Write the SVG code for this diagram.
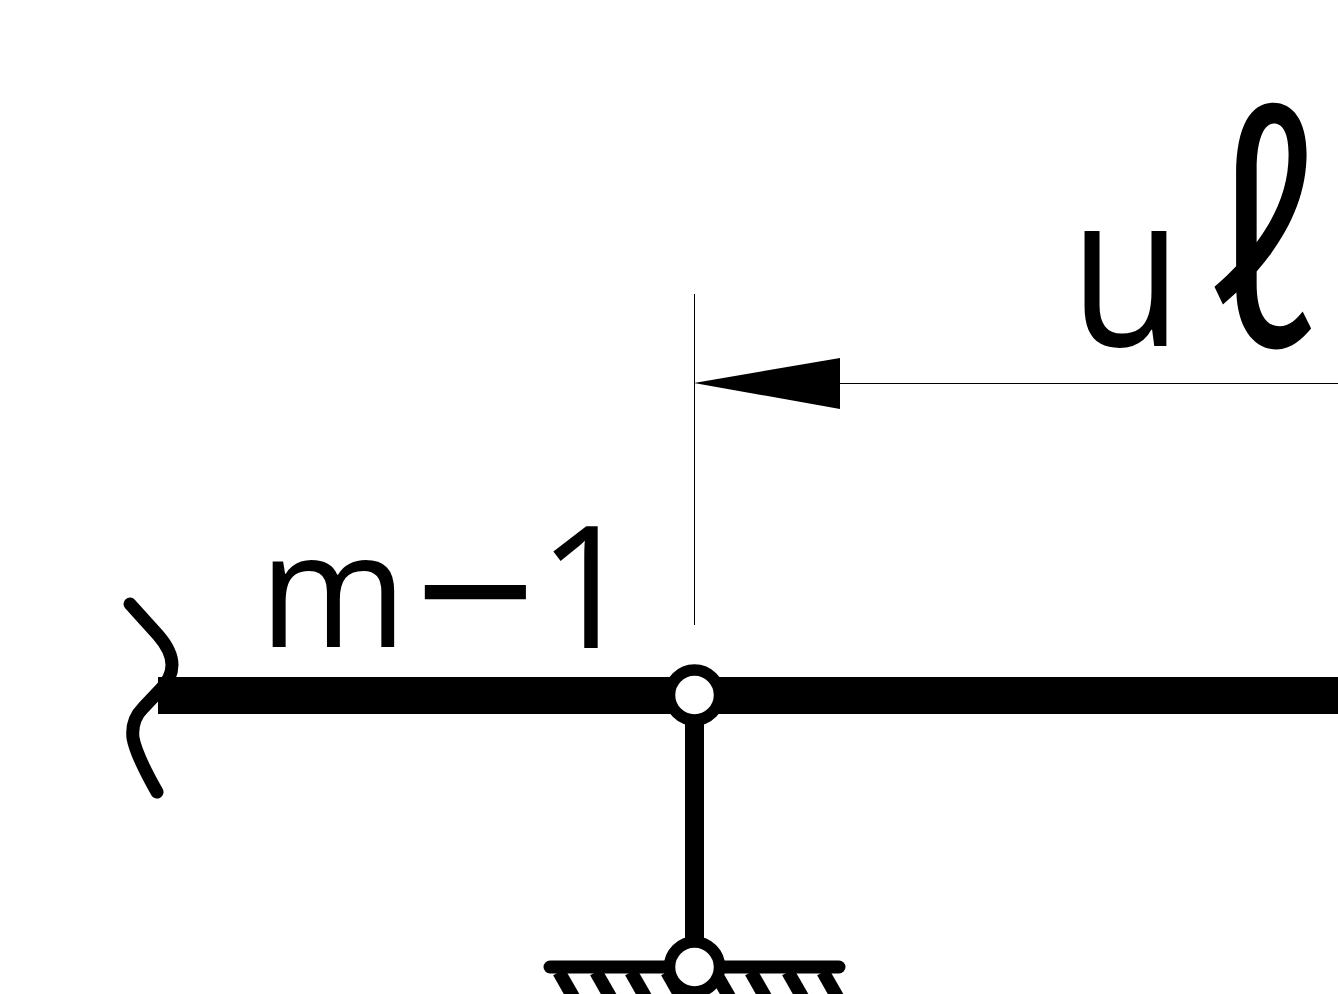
<svg xmlns="http://www.w3.org/2000/svg" width="1338" height="994" viewBox="0 0 1338 994">
<style>
.thin{stroke:#000;stroke-width:1;fill:none}
.heavy{stroke:#000;stroke-width:13;fill:none;stroke-linecap:round;stroke-linejoin:round}
.lab{font-family:"Open Sans","Noto Sans",sans-serif;fill:#000}
.hinge{fill:#fff;stroke:#000;stroke-width:11.500}
</style>
<rect width="1338" height="994" fill="#fff"/>
<g id="dimension">
<line class="thin" x1="694.500" y1="294" x2="694.500" y2="625"/>
<line class="thin" x1="838" y1="383.500" x2="1338" y2="383.500"/>
<polygon points="694,383 840,358 840,409" fill="#000"/>
</g>
<g id="beam">
<rect x="158" y="677" width="1180" height="37" fill="#000"/>
<path class="heavy" d="M130 604 L158 635 Q172 651 172 665 Q172 678 160 690 L143 708 Q131 720 133 738 Q136 755 157 792"/>
</g>
<g id="support">
<rect x="685" y="700" width="19" height="260" fill="#000"/>
<line class="heavy" x1="550" y1="967" x2="839" y2="967"/>
<g stroke="#000" stroke-width="13.500" fill="none">
<line x1="559" y1="972" x2="575" y2="1000"/>
<line x1="596" y1="972" x2="612" y2="1000"/>
<line x1="631" y1="972" x2="647" y2="1000"/>
<line x1="667" y1="972" x2="683" y2="1000"/>
<line x1="715" y1="972" x2="731" y2="1000"/>
<line x1="751" y1="972" x2="767" y2="1000"/>
<line x1="788" y1="972" x2="804" y2="1000"/>
<line x1="823" y1="972" x2="839" y2="1000"/>
</g>
<circle class="hinge" cx="694.500" cy="967" r="25"/>
</g>
<g id="hinge-top"><circle class="hinge" cx="694.500" cy="695" r="25"/></g>
<g id="labels">
<text class="lab" y="647"><tspan x="259" font-size="160">m</tspan><tspan x="414" y="668" font-size="215">−</tspan><tspan x="538" y="648" font-size="170">1</tspan></text>
<text class="lab" font-size="215" transform="translate(1070 346) scale(.85 1)">u</text>
<text font-family="'Noto Sans CJK SC','DejaVu Sans',sans-serif" font-size="300" transform="translate(1209 345.500) scale(.76 1)">ℓ</text>
</g>
</svg>
